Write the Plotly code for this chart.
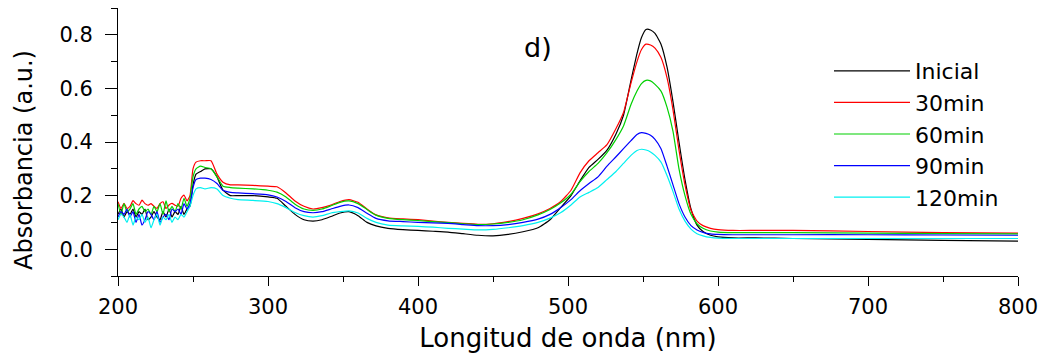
import plotly.graph_objects as go

wavelength = [200, 202, 204, 206, 208, 210, 212, 214, 216, 218, 220, 222, 224, 226, 228,
              230, 232, 234, 236, 238, 240, 242, 244, 246, 248,
              250, 252, 255, 258, 262, 266, 270, 275, 280, 290, 300, 306, 312, 318, 324,
              330, 336, 342, 348, 354, 360, 366, 372, 380, 390, 400, 410, 420, 430, 440,
              450, 460, 470, 480, 488, 495, 502, 508, 514, 520, 526, 532, 537, 542, 546,
              549, 552, 555, 558, 562, 566, 570, 574, 578, 582, 586, 590, 595, 600, 610,
              625, 650, 700, 750, 800]

inicial = [0.13, 0.15, 0.12, 0.14, 0.13, 0.15, 0.12, 0.14, 0.13, 0.15, 0.11, 0.12, 0.14, 0.12, 0.11,
           0.14, 0.12, 0.15, 0.12, 0.14, 0.13, 0.16, 0.13, 0.15, 0.16,
           0.24, 0.28, 0.29, 0.30, 0.30, 0.27, 0.22, 0.20, 0.20, 0.20, 0.195, 0.19, 0.16, 0.13, 0.11,
           0.105, 0.11, 0.122, 0.135, 0.14, 0.125, 0.10, 0.087, 0.078, 0.073, 0.07, 0.067, 0.064, 0.058, 0.052,
           0.05, 0.055, 0.065, 0.08, 0.11, 0.155, 0.20, 0.255, 0.305, 0.335, 0.37, 0.43, 0.50, 0.63, 0.73,
           0.79, 0.82, 0.818, 0.805, 0.765, 0.68, 0.55, 0.40, 0.26, 0.15, 0.09, 0.066, 0.052, 0.046, 0.042,
           0.042, 0.04, 0.037, 0.033, 0.03]

min30 = [0.177, 0.152, 0.171, 0.152, 0.16, 0.181, 0.17, 0.164, 0.183, 0.17, 0.164, 0.17, 0.16, 0.152, 0.17,
         0.177, 0.152, 0.165, 0.171, 0.164, 0.16, 0.19, 0.202, 0.18, 0.20,
         0.30, 0.325, 0.33, 0.33, 0.33, 0.28, 0.25, 0.24, 0.24, 0.238, 0.235, 0.233, 0.21, 0.18, 0.16,
         0.15, 0.155, 0.165, 0.178, 0.185, 0.175, 0.15, 0.128, 0.117, 0.113, 0.11, 0.105, 0.10, 0.096, 0.093,
         0.095, 0.103, 0.115, 0.132, 0.152, 0.177, 0.22, 0.285, 0.33, 0.36, 0.39, 0.45, 0.51, 0.62, 0.70,
         0.745, 0.765, 0.762, 0.75, 0.715, 0.64, 0.52, 0.37, 0.24, 0.145, 0.105, 0.088, 0.078, 0.073, 0.07,
         0.07, 0.07, 0.066, 0.062, 0.06]

min60 = [0.17, 0.13, 0.17, 0.14, 0.15, 0.17, 0.13, 0.15, 0.16, 0.14, 0.15, 0.13, 0.16, 0.14, 0.17,
         0.13, 0.18, 0.14, 0.16, 0.14, 0.17, 0.15, 0.19, 0.16, 0.19,
         0.27, 0.30, 0.31, 0.305, 0.30, 0.27, 0.235, 0.23, 0.228, 0.225, 0.22, 0.213, 0.195, 0.168, 0.15,
         0.145, 0.15, 0.162, 0.175, 0.18, 0.17, 0.148, 0.127, 0.115, 0.11, 0.107, 0.103, 0.099, 0.095, 0.092,
         0.094, 0.10, 0.11, 0.128, 0.148, 0.172, 0.205, 0.252, 0.29, 0.32, 0.36, 0.41, 0.46, 0.54, 0.59,
         0.618, 0.63, 0.628, 0.615, 0.59, 0.53, 0.44, 0.30, 0.20, 0.13, 0.095, 0.078, 0.068, 0.064, 0.062,
         0.062, 0.062, 0.06, 0.058, 0.057]

min90 = [0.12, 0.14, 0.13, 0.15, 0.12, 0.14, 0.10, 0.13, 0.09, 0.11, 0.14, 0.13, 0.11, 0.14, 0.10,
         0.12, 0.13, 0.11, 0.15, 0.14, 0.15, 0.13, 0.17, 0.15, 0.17,
         0.23, 0.26, 0.265, 0.265, 0.26, 0.245, 0.22, 0.212, 0.21, 0.207, 0.203, 0.195, 0.178, 0.155, 0.14,
         0.136, 0.14, 0.15, 0.16, 0.165, 0.155, 0.134, 0.115, 0.106, 0.103, 0.10, 0.098, 0.096, 0.092, 0.088,
         0.088, 0.092, 0.10, 0.112, 0.13, 0.155, 0.185, 0.218, 0.245, 0.27, 0.31, 0.345, 0.375, 0.405, 0.428,
         0.435, 0.432, 0.425, 0.41, 0.375, 0.31, 0.24, 0.17, 0.12, 0.088, 0.072, 0.063, 0.057, 0.055, 0.054,
         0.054, 0.054, 0.054, 0.053, 0.052]

min120 = [0.11, 0.13, 0.12, 0.10, 0.13, 0.09, 0.12, 0.11, 0.13, 0.10, 0.12, 0.08, 0.11, 0.13, 0.09,
          0.12, 0.11, 0.13, 0.10, 0.12, 0.11, 0.13, 0.12, 0.14, 0.16,
          0.20, 0.225, 0.23, 0.225, 0.23, 0.225, 0.20, 0.19, 0.185, 0.182, 0.178, 0.17, 0.155, 0.137, 0.125,
          0.12, 0.125, 0.135, 0.14, 0.143, 0.135, 0.115, 0.10, 0.09, 0.087, 0.085, 0.082, 0.078, 0.075, 0.072,
          0.074, 0.08, 0.088, 0.10, 0.116, 0.136, 0.165, 0.195, 0.212, 0.23, 0.26, 0.29, 0.32, 0.35, 0.368,
          0.373, 0.37, 0.363, 0.35, 0.325, 0.275, 0.215, 0.15, 0.105, 0.075, 0.058, 0.05, 0.044, 0.041, 0.04,
          0.04, 0.04, 0.04, 0.04, 0.04]

series_names = ["Inicial", "30min", "60min", "90min", "120min"]
series_values = [inicial, min30, min60, min90, min120]
colors = ["#000000", "#ff0000", "#00d000", "#0000ff", "#00f0f0"]

FONT = "DejaVu Sans"

# page body has an 8px margin, so the figure is sized to fit the 1046x356 window
W, H = 1038, 348
L, R, T, B = 110, 28, 0, 80
PW = W - L - R
PH = H - T - B

fig = go.Figure()
for name, vals, col in zip(series_names, series_values, colors):
    fig.add_trace(go.Scatter(x=wavelength, y=vals, name=name, mode="lines",
                             line=dict(color=col, width=1.2, shape="spline", smoothing=0.5)))

fig.update_layout(
    width=W, height=H,
    margin=dict(l=L, r=R, t=T, b=B, autoexpand=False),
    paper_bgcolor="white", plot_bgcolor="white",
    font=dict(family=FONT, size=21, color="black"),
    showlegend=True,
    legend=dict(x=(829 - 8 - L) / PW, y=(T + PH - (50 - 8)) / PH, xanchor="left", yanchor="top",
                font=dict(family=FONT, size=22, color="black"),
                bgcolor="rgba(0,0,0,0)", itemwidth=76, tracegroupgap=0),
    xaxis=dict(range=[200, 800], dtick=100, tick0=200, ticks="outside", ticklen=9,
               tickcolor="black", showline=True, linecolor="black", linewidth=1,
               showgrid=False, zeroline=False, ticklabelstandoff=3,
               minor=dict(dtick=50, ticks="outside", ticklen=5, tickcolor="black"),
               title=dict(text="Longitud de onda (nm)", font=dict(family=FONT, size=26), standoff=10)),
    yaxis=dict(range=[-0.1, 0.9], dtick=0.2, tick0=0, tickformat=".1f", ticks="outside", ticklen=12,
               tickcolor="black", showline=True, linecolor="black", linewidth=1,
               showgrid=False, zeroline=False, ticklabelstandoff=8,
               minor=dict(dtick=0.1, ticks="outside", ticklen=6, tickcolor="black")),
    annotations=[
        dict(text="d)", x=(538 - 8 - L) / PW, y=(T + PH - (47 - 8)) / PH, xref="paper", yref="paper",
             showarrow=False, font=dict(family=FONT, size=27, color="black"),
             xanchor="center", yanchor="middle"),
        dict(text="Absorbancia (a.u.)", x=(24 - 8 - L) / PW, y=(T + PH - (160 - 8)) / PH,
             xref="paper", yref="paper", showarrow=False, textangle=-90,
             font=dict(family=FONT, size=24, color="black"),
             xanchor="center", yanchor="middle"),
    ],
)

fig.write_html("out.html")
